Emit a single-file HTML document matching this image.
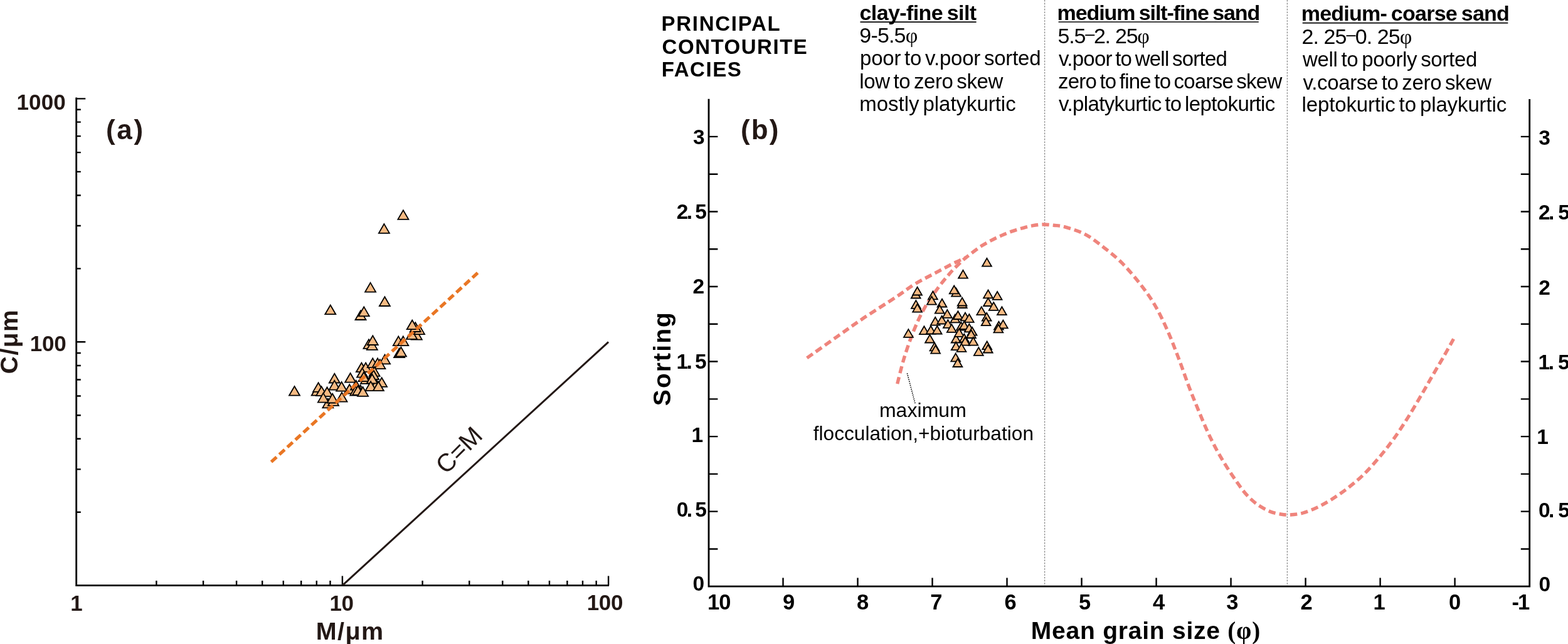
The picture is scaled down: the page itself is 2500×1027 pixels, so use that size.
<!DOCTYPE html>
<html><head><meta charset="utf-8"><title>Contourite facies plots</title>
<style>html,body{margin:0;padding:0;background:#fff;overflow:hidden}svg{display:block}</style>
</head><body>
<svg width="2500" height="1027" viewBox="0 0 2500 1027">
<path d="M121.7 155.5V933.6H971" fill="none" stroke="#000000" stroke-width="2.8" stroke-linejoin="miter"/>
<path d="M121.7 816.71H128.8M121.7 748.33H128.8M121.7 699.82H128.8M121.7 662.19H128.8M121.7 631.44H128.8M121.7 605.45H128.8M121.7 582.93H128.8M121.7 563.07H128.8M121.7 428.41H128.8M121.7 360.03H128.8M121.7 311.52H128.8M121.7 273.89H128.8M121.7 243.14H128.8M121.7 217.15H128.8M121.7 194.63H128.8M121.7 174.77H128.8M121.7 545.30H136.3M121.7 157.40H136.3M249.40 933.6V926.0M324.09 933.6V926.0M377.09 933.6V926.0M418.20 933.6V926.0M451.79 933.6V926.0M480.19 933.6V926.0M504.79 933.6V926.0M526.49 933.6V926.0M673.60 933.6V926.0M748.29 933.6V926.0M801.29 933.6V926.0M842.40 933.6V926.0M875.99 933.6V926.0M904.39 933.6V926.0M928.99 933.6V926.0M950.69 933.6V926.0M545.90 933.6V918.4M970.10 933.6V918.4" stroke="#000000" stroke-width="2.4" fill="none"/>
<line x1="545.9" y1="933.6" x2="970.1" y2="545.3" stroke="#231815" stroke-width="3"/>
<g fill="#F5BA83" stroke="#000" stroke-width="1.8" stroke-linejoin="miter"><path d="M505.20 616.00L513.70 630.72L496.70 630.72Z"/><path d="M557.20 613.00L565.70 627.72L548.70 627.72Z"/><path d="M574.70 614.20L583.20 628.92L566.20 628.92Z"/><path d="M583.50 597.20L592.00 611.92L575.00 611.92Z"/><path d="M600.00 605.20L608.50 619.92L591.50 619.92Z"/><path d="M642.90 335.20L651.40 349.92L634.40 349.92Z"/><path d="M612.40 357.10L620.90 371.82L603.90 371.82Z"/><path d="M590.60 450.90L599.10 465.62L582.10 465.62Z"/><path d="M613.40 473.30L621.90 488.02L604.90 488.02Z"/><path d="M526.80 486.50L535.30 501.22L518.30 501.22Z"/><path d="M575.00 495.30L583.50 510.02L566.50 510.02Z"/><path d="M580.30 489.40L588.80 504.12L571.80 504.12Z"/><path d="M588.00 541.20L596.50 555.92L579.50 555.92Z"/><path d="M593.30 543.10L601.80 557.82L584.80 557.82Z"/><path d="M594.30 535.30L602.80 550.02L585.80 550.02Z"/><path d="M664.30 526.90L672.80 541.62L655.80 541.62Z"/><path d="M656.50 526.20L665.00 540.92L648.00 540.92Z"/><path d="M668.50 518.40L677.00 533.12L660.00 533.12Z"/><path d="M662.30 514.30L670.80 529.02L653.80 529.02Z"/><path d="M657.20 510.50L665.70 525.22L648.70 525.22Z"/><path d="M635.30 536.40L643.80 551.12L626.80 551.12Z"/><path d="M642.80 536.40L651.30 551.12L634.30 551.12Z"/><path d="M636.60 555.50L645.10 570.22L628.10 570.22Z"/><path d="M639.40 553.60L647.90 568.32L630.90 568.32Z"/><path d="M576.40 578.50L584.90 593.22L567.90 593.22Z"/><path d="M583.10 578.50L591.60 593.22L574.60 593.22Z"/><path d="M594.30 571.40L602.80 586.12L585.80 586.12Z"/><path d="M602.10 571.40L610.60 586.12L593.60 586.12Z"/><path d="M613.60 565.60L622.10 580.32L605.10 580.32Z"/><path d="M605.90 573.40L614.40 588.12L597.40 588.12Z"/><path d="M597.10 585.10L605.60 599.82L588.60 599.82Z"/><path d="M577.60 587.00L586.10 601.72L569.10 601.72Z"/><path d="M580.00 593.50L588.50 608.22L571.50 608.22Z"/><path d="M595.60 590.50L604.10 605.22L587.10 605.22Z"/><path d="M593.30 596.70L601.80 611.42L584.80 611.42Z"/><path d="M608.60 602.20L617.10 616.92L600.10 616.92Z"/><path d="M591.10 608.40L599.60 623.12L582.60 623.12Z"/><path d="M603.40 608.50L611.90 623.22L594.90 623.22Z"/><path d="M567.60 606.80L576.10 621.52L559.10 621.52Z"/><path d="M566.80 615.90L575.30 630.62L558.30 630.62Z"/><path d="M570.70 615.20L579.20 629.92L562.20 629.92Z"/><path d="M578.60 617.10L587.10 631.82L570.10 631.82Z"/><path d="M469.50 616.00L478.00 630.72L461.00 630.72Z"/><path d="M507.60 610.20L516.10 624.92L499.10 624.92Z"/><path d="M512.60 616.40L521.10 631.12L504.10 631.12Z"/><path d="M521.50 617.50L530.00 632.22L513.00 632.22Z"/><path d="M533.30 595.80L541.80 610.52L524.80 610.52Z"/><path d="M533.30 606.90L541.80 621.62L524.80 621.62Z"/><path d="M544.60 609.00L553.10 623.72L536.10 623.72Z"/><path d="M558.60 595.00L567.10 609.72L550.10 609.72Z"/><path d="M522.90 635.60L531.40 650.32L514.40 650.32Z"/><path d="M531.50 632.20L540.00 646.92L523.00 646.92Z"/><path d="M515.40 626.90L523.90 641.62L506.90 641.62Z"/><path d="M545.00 625.90L553.50 640.62L536.50 640.62Z"/><path d="M530.10 627.80L538.60 642.52L521.60 642.52Z"/></g>
<line x1="432.5" y1="736.6" x2="761.6" y2="435.2" stroke="#E97624" stroke-width="5.2" stroke-dasharray="11.5 5.9"/>
<text transform="translate(28.2 544.6) rotate(-90)" font-family="'Liberation Sans', Arial, Helvetica, sans-serif" font-size="39" font-weight="bold" text-anchor="middle" fill="#231815" letter-spacing="1.4">C/&#956;m</text>
<text transform="translate(731.5 717.5) rotate(-45)" font-family="'Liberation Sans', Arial, Helvetica, sans-serif" font-size="40" font-weight="normal" text-anchor="middle" fill="#231815" dy="14">C=M</text>
<line x1="1665.6" y1="0" x2="1665.6" y2="935.2" stroke="#858585" stroke-width="1.25" stroke-dasharray="2.6 2.0"/>
<line x1="2052.4" y1="0" x2="2052.4" y2="935.2" stroke="#858585" stroke-width="1.25" stroke-dasharray="2.6 2.0"/>
<path d="M1130.0 157.7V935.2H2438.7V157.9" fill="none" stroke="#000000" stroke-width="2.8"/>
<path d="M1130.0 875.43H1144.4M2438.7 875.43H2424.8M1130.0 815.65H1144.4M2438.7 815.65H2424.8M1130.0 755.88H1144.4M2438.7 755.88H2424.8M1130.0 696.10H1144.4M2438.7 696.10H2424.8M1130.0 636.33H1144.4M2438.7 636.33H2424.8M1130.0 576.55H1144.4M2438.7 576.55H2424.8M1130.0 516.78H1144.4M2438.7 516.78H2424.8M1130.0 457.00H1144.4M2438.7 457.00H2424.8M1130.0 397.23H1144.4M2438.7 397.23H2424.8M1130.0 337.45H1144.4M2438.7 337.45H2424.8M1130.0 277.68H1144.4M2438.7 277.68H2424.8M1130.0 217.90H1144.4M2438.7 217.90H2424.8M2319.59 935.2V921.5M2200.58 935.2V921.5M2081.57 935.2V921.5M1962.56 935.2V921.5M1843.55 935.2V921.5M1724.54 935.2V921.5M1605.53 935.2V921.5M1486.52 935.2V921.5M1367.51 935.2V921.5M1248.50 935.2V921.5" stroke="#000000" stroke-width="2.4" fill="none"/>
<path d="M1286.60 570.90C1294.55 565.27 1319.22 547.73 1334.30 537.10C1349.38 526.47 1361.35 517.68 1377.10 507.10C1392.85 496.52 1415.22 482.62 1428.80 473.60C1442.38 464.58 1448.53 459.20 1458.60 453.00C1468.67 446.80 1479.13 441.80 1489.20 436.40C1499.27 431.00 1510.45 424.92 1519.00 420.60C1527.55 416.28 1536.92 412.18 1540.50 410.50" fill="none" stroke="#EF847C" stroke-width="5.4" stroke-dasharray="11.4 6.1"/>
<path d="M1430.70 612.10C1432.48 605.32 1437.12 585.33 1441.40 571.40C1445.68 557.47 1451.05 541.72 1456.40 528.50C1461.75 515.28 1467.07 503.52 1473.50 492.10C1479.93 480.68 1488.37 469.15 1495.00 460.00C1501.63 450.85 1508.27 443.12 1513.30 437.20C1518.33 431.28 1521.08 428.62 1525.20 424.50C1529.32 420.38 1533.60 416.28 1538.00 412.50C1542.40 408.72 1546.95 405.28 1551.60 401.80C1556.25 398.32 1561.02 394.72 1565.90 391.60C1570.78 388.48 1575.78 385.77 1580.90 383.10C1586.02 380.43 1591.32 377.93 1596.60 375.60C1601.88 373.27 1607.15 371.03 1612.60 369.10C1618.05 367.17 1623.73 365.53 1629.30 364.00C1634.87 362.47 1640.32 360.90 1646.00 359.90C1651.68 358.90 1657.73 358.10 1663.40 358.00C1669.07 357.90 1674.27 358.65 1680.00 359.30C1685.73 359.95 1689.47 359.52 1697.80 361.90C1706.13 364.28 1719.77 368.23 1730.00 373.60C1740.23 378.97 1749.47 386.55 1759.20 394.10C1768.93 401.65 1778.67 409.17 1788.40 418.90C1798.13 428.63 1808.83 441.30 1817.60 452.50C1826.37 463.70 1833.70 473.68 1841.00 486.10C1848.30 498.52 1855.07 512.87 1861.40 527.00C1867.73 541.13 1873.37 556.17 1879.00 570.90C1884.63 585.63 1889.97 601.65 1895.20 615.40C1900.43 629.15 1905.33 641.15 1910.40 653.40C1915.47 665.65 1920.53 677.93 1925.60 688.90C1930.67 699.87 1935.75 709.92 1940.80 719.20C1945.85 728.48 1950.85 736.58 1955.90 744.60C1960.95 752.62 1966.03 760.13 1971.10 767.30C1976.17 774.47 1980.82 781.48 1986.30 787.60C1991.78 793.72 1997.67 799.37 2004.00 804.00C2010.33 808.63 2017.97 812.73 2024.30 815.40C2030.63 818.07 2036.52 819.07 2042.00 820.00C2047.48 820.93 2051.28 821.33 2057.20 821.00C2063.12 820.67 2070.32 819.98 2077.50 818.00C2084.68 816.02 2092.72 812.68 2100.30 809.10C2107.88 805.52 2114.98 801.57 2123.00 796.50C2131.02 791.43 2139.95 785.25 2148.40 778.70C2156.85 772.15 2165.27 765.42 2173.70 757.20C2182.13 748.98 2190.98 738.88 2199.00 729.40C2207.02 719.92 2214.20 710.85 2221.80 700.30C2229.40 689.75 2237.02 678.13 2244.60 666.10C2252.18 654.07 2260.77 639.23 2267.30 628.10C2273.83 616.97 2278.13 609.07 2283.80 599.30C2289.47 589.53 2295.65 579.33 2301.30 569.50C2306.95 559.67 2314.97 545.17 2317.70 540.30" fill="none" stroke="#EF847C" stroke-width="5.4" stroke-dasharray="11.4 6.1"/>
<line x1="1446.4" y1="595.2" x2="1459.4" y2="644.6" stroke="#000" stroke-width="1.6" stroke-dasharray="1.6 1.6"/>
<g fill="#F5BA83" stroke="#000" stroke-width="1.8" stroke-linejoin="miter"><path d="M1522.80 501.50L1530.20 514.32L1515.40 514.32Z"/><path d="M1460.20 462.70L1467.60 475.52L1452.80 475.52Z"/><path d="M1462.60 457.70L1470.00 470.52L1455.20 470.52Z"/><path d="M1460.40 479.10L1467.80 491.92L1453.00 491.92Z"/><path d="M1462.60 484.90L1470.00 497.72L1455.20 497.72Z"/><path d="M1487.40 464.50L1494.80 477.32L1480.00 477.32Z"/><path d="M1485.50 472.80L1492.90 485.62L1478.10 485.62Z"/><path d="M1502.00 476.70L1509.40 489.52L1494.60 489.52Z"/><path d="M1498.20 486.90L1505.60 499.72L1490.80 499.72Z"/><path d="M1524.60 459.80L1532.00 472.62L1517.20 472.62Z"/><path d="M1521.20 455.50L1528.60 468.32L1513.80 468.32Z"/><path d="M1448.40 525.10L1455.80 537.92L1441.00 537.92Z"/><path d="M1473.40 520.30L1480.80 533.12L1466.00 533.12Z"/><path d="M1491.20 505.80L1498.60 518.62L1483.80 518.62Z"/><path d="M1484.10 519.70L1491.50 532.52L1476.70 532.52Z"/><path d="M1494.20 519.70L1501.60 532.52L1486.80 532.52Z"/><path d="M1482.50 533.70L1489.90 546.52L1475.10 546.52Z"/><path d="M1490.00 546.50L1497.40 559.32L1482.60 559.32Z"/><path d="M1491.60 550.80L1499.00 563.62L1484.20 563.62Z"/><path d="M1501.70 503.70L1509.10 516.52L1494.30 516.52Z"/><path d="M1510.30 494.00L1517.70 506.82L1502.90 506.82Z"/><path d="M1511.40 510.10L1518.80 522.92L1504.00 522.92Z"/><path d="M1517.30 517.10L1524.70 529.92L1509.90 529.92Z"/><path d="M1523.70 563.60L1531.10 576.42L1516.30 576.42Z"/><path d="M1526.90 572.20L1534.30 585.02L1519.50 585.02Z"/><path d="M1524.20 533.70L1531.60 546.52L1516.80 546.52Z"/><path d="M1524.20 545.40L1531.60 558.22L1516.80 558.22Z"/><path d="M1527.40 496.20L1534.80 509.02L1520.00 509.02Z"/><path d="M1573.50 411.90L1580.90 424.72L1566.10 424.72Z"/><path d="M1535.50 430.90L1542.90 443.72L1528.10 443.72Z"/><path d="M1534.30 478.20L1541.70 491.02L1526.90 491.02Z"/><path d="M1534.10 474.70L1541.50 487.52L1526.70 487.52Z"/><path d="M1575.50 462.50L1582.90 475.32L1568.10 475.32Z"/><path d="M1590.10 465.00L1597.50 477.82L1582.70 477.82Z"/><path d="M1575.50 475.20L1582.90 488.02L1568.10 488.02Z"/><path d="M1584.20 482.00L1591.60 494.82L1576.80 494.82Z"/><path d="M1564.80 489.30L1572.20 502.12L1557.40 502.12Z"/><path d="M1597.40 489.30L1604.80 502.12L1590.00 502.12Z"/><path d="M1539.00 498.60L1546.40 511.42L1531.60 511.42Z"/><path d="M1573.20 498.90L1580.60 511.72L1565.80 511.72Z"/><path d="M1572.10 506.40L1579.50 519.22L1564.70 519.22Z"/><path d="M1592.40 512.80L1599.80 525.62L1585.00 525.62Z"/><path d="M1599.40 510.60L1606.80 523.42L1592.00 523.42Z"/><path d="M1591.90 517.60L1599.30 530.42L1584.50 530.42Z"/><path d="M1545.30 501.00L1552.70 513.82L1537.90 513.82Z"/><path d="M1532.30 513.80L1539.70 526.62L1524.90 526.62Z"/><path d="M1537.30 512.20L1544.70 525.02L1529.90 525.02Z"/><path d="M1545.30 516.50L1552.70 529.32L1537.90 529.32Z"/><path d="M1550.10 521.90L1557.50 534.72L1542.70 534.72Z"/><path d="M1529.30 524.00L1536.70 536.82L1521.90 536.82Z"/><path d="M1548.50 526.20L1555.90 539.02L1541.10 539.02Z"/><path d="M1537.30 532.60L1544.70 545.42L1529.90 545.42Z"/><path d="M1538.90 537.90L1546.30 550.72L1531.50 550.72Z"/><path d="M1551.80 537.90L1559.20 550.72L1544.40 550.72Z"/><path d="M1533.00 548.10L1540.40 560.92L1525.60 560.92Z"/><path d="M1560.30 554.00L1567.70 566.82L1552.90 566.82Z"/><path d="M1573.70 544.40L1581.10 557.22L1566.30 557.22Z"/><path d="M1575.30 549.70L1582.70 562.52L1567.90 562.52Z"/></g>
<text x="1078.8" y="348.8" font-family="'Liberation Sans', Arial, Helvetica, sans-serif" font-size="33.5" font-weight="bold" fill="#000">2<tspan dx="-2.6">.</tspan><tspan dx="4.2">5</tspan></text>
<text x="1078.4" y="587.8" font-family="'Liberation Sans', Arial, Helvetica, sans-serif" font-size="33.5" font-weight="bold" fill="#000">1<tspan dx="-2.6">.</tspan><tspan dx="4.2">5</tspan></text>
<text x="1078.8" y="823.8" font-family="'Liberation Sans', Arial, Helvetica, sans-serif" font-size="33.5" font-weight="bold" fill="#000">0<tspan dx="-2.6">.</tspan><tspan dx="4.2">5</tspan></text>
<text x="2453.0" y="349.6" font-family="'Liberation Sans', Arial, Helvetica, sans-serif" font-size="33.5" font-weight="bold" fill="#000">2<tspan dx="-2.6">.</tspan><tspan dx="6.0">5</tspan></text>
<text x="2452.6" y="588.6" font-family="'Liberation Sans', Arial, Helvetica, sans-serif" font-size="33.5" font-weight="bold" fill="#000">1<tspan dx="-2.6">.</tspan><tspan dx="6.0">5</tspan></text>
<text x="2453.0" y="824.6" font-family="'Liberation Sans', Arial, Helvetica, sans-serif" font-size="33.5" font-weight="bold" fill="#000">0<tspan dx="-2.6">.</tspan><tspan dx="6.0">5</tspan></text>
<text transform="translate(1069.4 571.6) rotate(-90)" font-family="'Liberation Sans', Arial, Helvetica, sans-serif" font-size="39" font-weight="bold" text-anchor="middle" fill="#000" letter-spacing="2.1">Sorting</text>
<text x="26.50" y="174.90" font-family="'Liberation Sans', Arial, Helvetica, sans-serif" font-size="35" font-weight="bold" fill="#231815" letter-spacing="0.100">1000</text>
<text x="47.80" y="559.80" font-family="'Liberation Sans', Arial, Helvetica, sans-serif" font-size="35" font-weight="bold" fill="#231815" letter-spacing="-0.200">100</text>
<text x="112.20" y="973.60" font-family="'Liberation Sans', Arial, Helvetica, sans-serif" font-size="35" font-weight="bold" fill="#231815">1</text>
<text x="525.50" y="973.60" font-family="'Liberation Sans', Arial, Helvetica, sans-serif" font-size="35" font-weight="bold" fill="#231815" letter-spacing="-0.500">10</text>
<text x="935.70" y="973.40" font-family="'Liberation Sans', Arial, Helvetica, sans-serif" font-size="35" font-weight="bold" fill="#231815" letter-spacing="-0.350">100</text>
<text x="503.70" y="1020.20" font-family="'Liberation Sans', Arial, Helvetica, sans-serif" font-size="39.5" font-weight="bold" fill="#231815" letter-spacing="1.433">M/&#956;m</text>
<text x="168.90" y="221.60" font-family="'Liberation Sans', Arial, Helvetica, sans-serif" font-size="44" font-weight="bold" fill="#231815" letter-spacing="2.700">(a)</text>
<text x="1180.90" y="221.80" font-family="'Liberation Sans', Arial, Helvetica, sans-serif" font-size="44" font-weight="bold" fill="#231815" letter-spacing="2.150">(b)</text>
<text x="1054.60" y="49.20" font-family="'Liberation Sans', Arial, Helvetica, sans-serif" font-size="33" font-weight="bold" fill="#000000" letter-spacing="1.713">PRINCIPAL</text>
<text x="1055.60" y="85.80" font-family="'Liberation Sans', Arial, Helvetica, sans-serif" font-size="33" font-weight="bold" fill="#000000" letter-spacing="1.522">CONTOURITE</text>
<text x="1054.80" y="121.80" font-family="'Liberation Sans', Arial, Helvetica, sans-serif" font-size="33" font-weight="bold" fill="#000000" letter-spacing="1.540">FACIES</text>
<text x="1370.50" y="32.00" font-family="'Liberation Sans', Arial, Helvetica, sans-serif" font-size="34" font-weight="bold" fill="#000000" letter-spacing="-0.608" word-spacing="-2">clay-fine silt</text>
<text x="1685.60" y="31.90" font-family="'Liberation Sans', Arial, Helvetica, sans-serif" font-size="34" font-weight="bold" fill="#000000" letter-spacing="-1.090" word-spacing="-2">medium silt-fine sand</text>
<text x="2074.70" y="33.40" font-family="'Liberation Sans', Arial, Helvetica, sans-serif" font-size="34" font-weight="bold" fill="#000000" letter-spacing="-0.744" word-spacing="-2">medium- coarse sand</text>
<text x="1370.30" y="67.90" font-family="'Liberation Sans', Arial, Helvetica, sans-serif" font-size="34" font-weight="normal" fill="#000000" letter-spacing="-0.820">9-5.5<tspan font-family="'Liberation Serif', 'Times New Roman', serif">&#966;</tspan></text>
<text x="1371.00" y="104.40" font-family="'Liberation Sans', Arial, Helvetica, sans-serif" font-size="33" font-weight="normal" fill="#000000" letter-spacing="-0.225" word-spacing="-3">poor to v.poor sorted</text>
<text x="1370.30" y="141.00" font-family="'Liberation Sans', Arial, Helvetica, sans-serif" font-size="33" font-weight="normal" fill="#000000" letter-spacing="-0.393" word-spacing="-3">low to zero skew</text>
<text x="1370.30" y="177.00" font-family="'Liberation Sans', Arial, Helvetica, sans-serif" font-size="33" font-weight="normal" fill="#000000" letter-spacing="-0.041" word-spacing="-3">mostly platykurtic</text>
<text x="1686.60" y="68.60" font-family="'Liberation Sans', Arial, Helvetica, sans-serif" font-size="34" font-weight="normal" fill="#000000" letter-spacing="-1.244">5.5<tspan font-size="27" dy="-5.5">&#8211;</tspan><tspan dy="5.5">2. 25</tspan><tspan font-family="'Liberation Serif', 'Times New Roman', serif">&#966;</tspan></text>
<text x="1688.00" y="104.60" font-family="'Liberation Sans', Arial, Helvetica, sans-serif" font-size="33" font-weight="normal" fill="#000000" letter-spacing="-0.750" word-spacing="-3">v.poor to well sorted</text>
<text x="1687.00" y="141.40" font-family="'Liberation Sans', Arial, Helvetica, sans-serif" font-size="33" font-weight="normal" fill="#000000" letter-spacing="-0.781" word-spacing="-3">zero to fine to coarse skew</text>
<text x="1688.00" y="176.80" font-family="'Liberation Sans', Arial, Helvetica, sans-serif" font-size="33" font-weight="normal" fill="#000000" letter-spacing="-0.619" word-spacing="-3">v.platykurtic to leptokurtic</text>
<text x="2075.50" y="69.60" font-family="'Liberation Sans', Arial, Helvetica, sans-serif" font-size="34" font-weight="normal" fill="#000000" letter-spacing="-0.918">2. 25<tspan font-size="27" dy="-5.5">&#8211;</tspan><tspan dy="5.5">0. 25</tspan><tspan font-family="'Liberation Serif', 'Times New Roman', serif">&#966;</tspan></text>
<text x="2077.00" y="106.20" font-family="'Liberation Sans', Arial, Helvetica, sans-serif" font-size="33" font-weight="normal" fill="#000000" letter-spacing="-0.305" word-spacing="-3">well to poorly sorted</text>
<text x="2077.50" y="143.20" font-family="'Liberation Sans', Arial, Helvetica, sans-serif" font-size="33" font-weight="normal" fill="#000000" letter-spacing="-0.355" word-spacing="-3">v.coarse to zero skew</text>
<text x="2075.50" y="178.40" font-family="'Liberation Sans', Arial, Helvetica, sans-serif" font-size="33" font-weight="normal" fill="#000000" letter-spacing="-0.121" word-spacing="-3">leptokurtic to playkurtic</text>
<text x="1401.90" y="664.80" font-family="'Liberation Sans', Arial, Helvetica, sans-serif" font-size="32" font-weight="normal" fill="#000000" letter-spacing="0.050">maximum</text>
<text x="1296.70" y="701.60" font-family="'Liberation Sans', Arial, Helvetica, sans-serif" font-size="31.6" font-weight="normal" fill="#000000" letter-spacing="0.036">flocculation,+bioturbation</text>
<text x="1643.80" y="1018.80" font-family="'Liberation Sans', Arial, Helvetica, sans-serif" font-size="39" font-weight="bold" fill="#000000" letter-spacing="0.767">Mean grain size <tspan font-family="'Liberation Serif', 'Times New Roman', serif" font-weight="bold">(&#966;)</tspan></text>
<text x="1128.10" y="971.80" font-family="'Liberation Sans', Arial, Helvetica, sans-serif" font-size="34.5" font-weight="bold" fill="#000000" letter-spacing="-1.100">10</text>
<text x="1248.00" y="971.80" font-family="'Liberation Sans', Arial, Helvetica, sans-serif" font-size="34.5" font-weight="bold" fill="#000000">9</text>
<text x="1366.00" y="971.80" font-family="'Liberation Sans', Arial, Helvetica, sans-serif" font-size="34.5" font-weight="bold" fill="#000000">8</text>
<text x="1483.30" y="971.80" font-family="'Liberation Sans', Arial, Helvetica, sans-serif" font-size="34.5" font-weight="bold" fill="#000000">7</text>
<text x="1601.60" y="971.80" font-family="'Liberation Sans', Arial, Helvetica, sans-serif" font-size="34.5" font-weight="bold" fill="#000000">6</text>
<text x="1720.00" y="971.80" font-family="'Liberation Sans', Arial, Helvetica, sans-serif" font-size="34.5" font-weight="bold" fill="#000000">5</text>
<text x="1838.00" y="971.80" font-family="'Liberation Sans', Arial, Helvetica, sans-serif" font-size="34.5" font-weight="bold" fill="#000000">4</text>
<text x="1955.20" y="971.80" font-family="'Liberation Sans', Arial, Helvetica, sans-serif" font-size="34.5" font-weight="bold" fill="#000000">3</text>
<text x="2073.40" y="971.80" font-family="'Liberation Sans', Arial, Helvetica, sans-serif" font-size="34.5" font-weight="bold" fill="#000000">2</text>
<text x="2189.60" y="971.80" font-family="'Liberation Sans', Arial, Helvetica, sans-serif" font-size="34.5" font-weight="bold" fill="#000000">1</text>
<text x="2310.00" y="971.80" font-family="'Liberation Sans', Arial, Helvetica, sans-serif" font-size="34.5" font-weight="bold" fill="#000000">0</text>
<text x="2410.60" y="971.80" font-family="'Liberation Sans', Arial, Helvetica, sans-serif" font-size="34.5" font-weight="bold" fill="#000000" letter-spacing="-2.000">-1</text>
<text x="1104.90" y="229.90" font-family="'Liberation Sans', Arial, Helvetica, sans-serif" font-size="33.5" font-weight="bold" fill="#000000">3</text>
<text x="1104.40" y="467.90" font-family="'Liberation Sans', Arial, Helvetica, sans-serif" font-size="33.5" font-weight="bold" fill="#000000">2</text>
<text x="1102.60" y="705.00" font-family="'Liberation Sans', Arial, Helvetica, sans-serif" font-size="33.5" font-weight="bold" fill="#000000">1</text>
<text x="1104.40" y="941.50" font-family="'Liberation Sans', Arial, Helvetica, sans-serif" font-size="33.5" font-weight="bold" fill="#000000">0</text>
<text x="2453.30" y="230.60" font-family="'Liberation Sans', Arial, Helvetica, sans-serif" font-size="33.5" font-weight="bold" fill="#000000">3</text>
<text x="2453.30" y="469.60" font-family="'Liberation Sans', Arial, Helvetica, sans-serif" font-size="33.5" font-weight="bold" fill="#000000">2</text>
<text x="2450.30" y="707.60" font-family="'Liberation Sans', Arial, Helvetica, sans-serif" font-size="33.5" font-weight="bold" fill="#000000">1</text>
<text x="2453.50" y="942.80" font-family="'Liberation Sans', Arial, Helvetica, sans-serif" font-size="33.5" font-weight="bold" fill="#000000">0</text>
<line x1="1371.5" y1="35.2" x2="1556.6" y2="35.2" stroke="#000" stroke-width="1.7"/>
<line x1="1687.6" y1="35.0" x2="2006.8" y2="35.0" stroke="#000" stroke-width="1.7"/>
<line x1="2076.7" y1="36.6" x2="2404.3" y2="36.6" stroke="#000" stroke-width="1.7"/>
</svg>
</body></html>
